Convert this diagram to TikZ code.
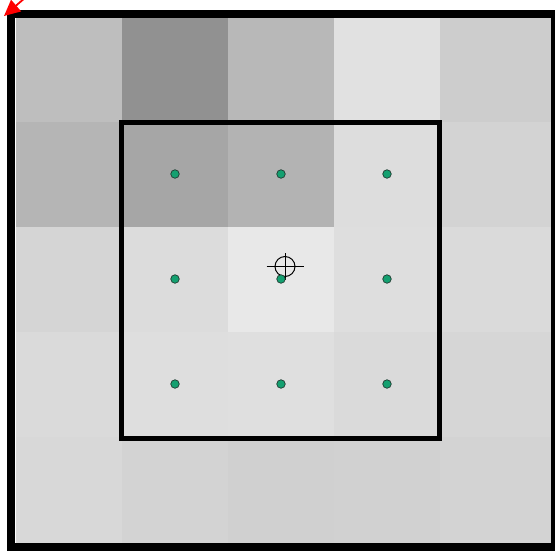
\documentclass[tikz,border=0pt]{standalone}
\usepackage{tikz}
\usepackage{xcolor}
\usetikzlibrary{positioning,calc,arrows.meta}
\definecolor{sampleGreen}{HTML}{14A070}
\definecolor{sampleEdge}{HTML}{1E3A30}

\tikzset{
  sample/.style={circle,fill=sampleGreen,draw=sampleEdge,line width=0.7pt,inner sep=0pt,minimum size=8.5pt},
  aim/.style={circle,draw=black,line width=1pt,inner sep=0pt,minimum size=20pt}
}

\begin{document}
\begin{tikzpicture}[x=1pt,y=-1pt]
  \useasboundingbox (0,0) rectangle (555,550);
  % raster cells, row by row
  \foreach \g [count=\k from 0] in {190,145,184,225,205,
                                    181,166,179,221,211,
                                    213,220,232,222,218,
                                    218,222,223,218,214,
                                    216,211,208,209,211}{
    \pgfmathtruncatemacro\c{mod(\k,5)}
    \pgfmathtruncatemacro\r{div(\k,5)}
    \pgfmathsetmacro\w{\c==4 ? 112 : 106}
    \pgfmathsetmacro\h{\r==4 ? 110 : 105}
    \definecolor{cellgray}{RGB}{\g,\g,\g}
    \fill[cellgray] (15.5+106*\c,17+105*\r) rectangle ++(\w,\h);
  }
  % outer frame and 3x3 window
  \draw[line width=8pt] (10.5,14) rectangle (555,547);
  \draw[line width=5pt] (121.5,122) rectangle (439.5,438);
  % crosshair
  \node[aim] (aim) at (285,266.5) {};
  \draw[line width=1pt] ([xshift=-8pt]aim.west) -- ([xshift=8pt]aim.east);
  \draw[line width=1pt] ([yshift=3pt]aim.north) -- ([yshift=-3pt]aim.south);
  % sample points
  \foreach \r in {0,1,2}{
    \foreach \c in {0,1,2}{
      \node[sample] (s\r\c) at (175+106*\c,174+105*\r) {};
    }
  }
  % corner marker
  \coordinate (tail) at (26,-3);
  \coordinate (tip) at (4,16);
  \draw[red,line width=1.8pt,-{Triangle[length=16pt,width=15pt]}] (tail) -- (tip);
\end{tikzpicture}
\end{document}
